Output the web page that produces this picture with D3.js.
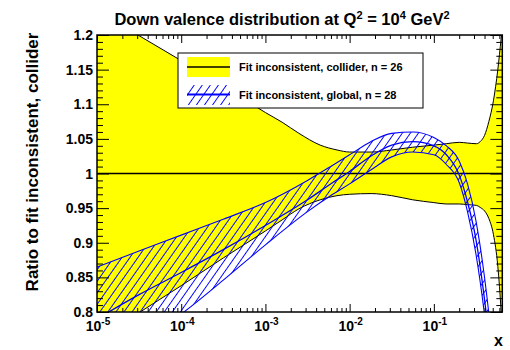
<!DOCTYPE html>
<html><head><meta charset="utf-8">
<script src="https://cdn.jsdelivr.net/npm/d3@7"></script>
<style>body{margin:0;background:#fff}svg{display:block}text{font-family:"Liberation Sans",Arial,sans-serif;font-weight:bold}</style>
</head><body><svg id="c" width="510" height="350"></svg>
<script>
// ---- data ----
const colliderX = [1e-5, 3.16e-5, 1e-4, 3.16e-4, 1e-3, 1.58e-3, 2.5e-3, 4.47e-3, 7.08e-3, 1e-2, 1.8e-2, 3.16e-2, 5.62e-2, 0.1, 0.14, 0.2, 0.25, 0.32, 0.355, 0.4, 0.45, 0.51, 0.575, 0.63, 0.65];
const colliderUpper = [1.236, 1.199, 1.163, 1.127, 1.088, 1.074, 1.058, 1.041, 1.034, 1.031, 1.031, 1.034, 1.038, 1.041, 1.043, 1.045, 1.044, 1.043, 1.046, 1.055, 1.075, 1.105, 1.15, 1.195, 1.21];
const colliderLower = [0.760, 0.799, 0.838, 0.878, 0.917, 0.933, 0.949, 0.962, 0.968, 0.970, 0.971, 0.968, 0.962, 0.958, 0.956, 0.956, 0.955, 0.954, 0.951, 0.946, 0.935, 0.912, 0.866, 0.800, 0.770];
const colliderCentral = [1, 1];
const colliderCentralX = [1e-5, 0.65];

const globalX = [1e-5, 3.16e-5, 1e-4, 3.16e-4, 1e-3, 3.16e-3, 6.31e-3, 1e-2, 1.78e-2, 3.16e-2, 5.62e-2, 0.1, 0.141, 0.2, 0.251, 0.316, 0.398, 0.501, 0.65];
const globalUpper = [0.865, 0.888, 0.911, 0.934, 0.958, 0.990, 1.012, 1.027, 1.046, 1.058, 1.060, 1.052, 1.040, 1.018, 0.985, 0.932, 0.852, 0.745, 0.600];
const globalCentral = [0.790, 0.825, 0.857, 0.890, 0.925, 0.962, 0.987, 1.003, 1.025, 1.041, 1.046, 1.040, 1.027, 0.998, 0.959, 0.905, 0.820, 0.712, 0.570];
const globalLower = [0.720, 0.755, 0.797, 0.846, 0.897, 0.945, 0.970, 0.985, 1.005, 1.024, 1.031, 1.027, 1.013, 0.987, 0.945, 0.884, 0.798, 0.685, 0.540];

const xMajor = [1e-5, 1e-4, 1e-3, 1e-2, 1e-1];
const xMajorExp = ["-5", "-4", "-3", "-2", "-1"];
const yMajor = [0.8, 0.85, 0.9, 0.95, 1.0, 1.05, 1.1, 1.15, 1.2];
const yMajorLabels = ["0.8", "0.85", "0.9", "0.95", "1", "1.05", "1.1", "1.15", "1.2"];
const legendLabels = ["Fit inconsistent, collider, n = 26", "Fit inconsistent, global, n = 28"];

// ---- layout ----
const L = 97, R = 502.3, T = 35, B = 312;
const svg = d3.select("#c");
const x = d3.scaleLog().domain([1e-5, 0.65]).range([L, R]);
const y = d3.scaleLinear().domain([0.8, 1.2]).range([B, T]);

const defs = svg.append("defs");
defs.append("clipPath").attr("id", "clip").append("rect").attr("x", L).attr("y", T).attr("width", R - L).attr("height", B - T);
const pat = defs.append("pattern").attr("id", "hatch").attr("patternUnits", "userSpaceOnUse")
  .attr("width", 6.6).attr("height", 20).attr("patternTransform", "rotate(35)");
pat.append("line").attr("x1", 3.3).attr("x2", 3.3).attr("y1", -1).attr("y2", 21).attr("stroke", "#0000ff").attr("stroke-width", 1);

const g = svg.append("g").attr("clip-path", "url(#clip)");
const curve = d3.curveMonotoneX;

// collider band
const cIdx = d3.range(colliderX.length);
g.append("path").attr("fill", "#ffff00")
  .attr("d", d3.area().curve(curve).x(i => x(colliderX[i])).y0(i => y(colliderLower[i])).y1(i => y(colliderUpper[i]))(cIdx));
[colliderUpper, colliderLower].forEach(arr => {
  g.append("path").attr("fill", "none").attr("stroke", "#000").attr("stroke-width", 1)
    .attr("d", d3.line().curve(curve).x(i => x(colliderX[i])).y(i => y(arr[i]))(cIdx));
});
g.append("path").attr("fill", "none").attr("stroke", "#000").attr("stroke-width", 1.3)
  .attr("d", d3.line().x((d, i) => x(colliderCentralX[i])).y(d => y(d))(colliderCentral));

// global band
const gIdx = d3.range(globalX.length);
g.append("path").attr("fill", "url(#hatch)")
  .attr("d", d3.area().curve(curve).x(i => x(globalX[i])).y0(i => y(globalLower[i])).y1(i => y(globalUpper[i]))(gIdx));
[globalUpper, globalLower, globalCentral].forEach((arr, k) => {
  g.append("path").attr("fill", "none").attr("stroke", "#0000ff").attr("stroke-width", k === 2 ? 1.3 : 1.1)
    .attr("d", d3.line().curve(curve).x(i => x(globalX[i])).y(i => y(arr[i]))(gIdx));
});

// ---- axes (ticks inside, ROOT style) ----
const xMinor = [];
for (let e = -5; e <= -1; e++) for (let k = 2; k <= 9; k++) { const v = k * Math.pow(10, e); if (v <= 0.65) xMinor.push(v); }
const yMinor = d3.range(80, 121).map(v => v / 100).filter(v => Math.round(v * 100) % 5 !== 0);

function ax(axisFn, scale, vals, size, tr) {
  svg.append("g").attr("transform", tr)
    .call(axisFn(scale).tickValues(vals).tickSize(size).tickFormat(""))
    .call(s => s.select(".domain").remove())
    .call(s => s.selectAll("line").attr("stroke", "#000").attr("stroke-width", 1));
}
ax(d3.axisBottom, x, xMajor, -8, `translate(0,${B})`);
ax(d3.axisBottom, x, xMinor, -4, `translate(0,${B})`);
ax(d3.axisTop, x, xMajor, -8, `translate(0,${T})`);
ax(d3.axisTop, x, xMinor, -4, `translate(0,${T})`);
ax(d3.axisLeft, y, yMajor, -12, `translate(${L},0)`);
ax(d3.axisLeft, y, yMinor, -6, `translate(${L},0)`);
ax(d3.axisRight, y, yMajor, -12, `translate(${R},0)`);
ax(d3.axisRight, y, yMinor, -6, `translate(${R},0)`);

svg.append("rect").attr("x", L).attr("y", T).attr("width", R - L).attr("height", B - T)
  .attr("fill", "none").attr("stroke", "#000").attr("stroke-width", 1.5);

// y labels
svg.append("g").selectAll("text").data(yMajor).join("text")
  .attr("x", L - 4).attr("y", d => y(d) + 5).attr("text-anchor", "end").attr("font-size", 14)
  .text((d, i) => yMajorLabels[i]);

// x labels
const xl = svg.append("g").selectAll("text").data(xMajor).join("text")
  .attr("x", d => x(d) + 1).attr("y", 331).attr("text-anchor", "middle").attr("font-size", 14);
xl.append("tspan").text("10");
xl.append("tspan").attr("dy", -6).attr("font-size", 10).text((d, i) => xMajorExp[i]);

// axis titles
svg.append("text").attr("x", 503).attr("y", 346).attr("text-anchor", "end").attr("font-size", 16).text("x");
svg.append("text").attr("transform", "translate(38,162) rotate(-90)").attr("text-anchor", "middle")
  .attr("font-size", 17).text("Ratio to fit inconsistent, collider");

// title
const t = svg.append("text").attr("x", 282).attr("y", 25).attr("text-anchor", "middle").attr("font-size", 16.5);
t.append("tspan").text("Down valence distribution at Q");
t.append("tspan").attr("dy", -6).attr("font-size", 11).text("2");
t.append("tspan").attr("dy", 6).text(" = 10");
t.append("tspan").attr("dy", -6).attr("font-size", 11).text("4");
t.append("tspan").attr("dy", 6).text(" GeV");
t.append("tspan").attr("dy", -6).attr("font-size", 11).text("2");

// legend
const lg = svg.append("g");
lg.append("rect").attr("x", 178).attr("y", 53).attr("width", 245).attr("height", 55)
  .attr("fill", "#fff").attr("stroke", "#000").attr("stroke-width", 1);
lg.append("rect").attr("x", 187).attr("y", 57).attr("width", 43).attr("height", 20).attr("fill", "#ffff00");
lg.append("line").attr("x1", 187).attr("x2", 230).attr("y1", 67).attr("y2", 67).attr("stroke", "#000").attr("stroke-width", 1.3);
lg.append("rect").attr("x", 187).attr("y", 85).attr("width", 43).attr("height", 20).attr("fill", "url(#hatch)");
lg.append("line").attr("x1", 187).attr("x2", 230).attr("y1", 94.5).attr("y2", 94.5).attr("stroke", "#0000ff").attr("stroke-width", 2.2);
lg.selectAll("text.l").data(legendLabels).join("text").attr("class", "l")
  .attr("x", 239).attr("y", (d, i) => i === 0 ? 71 : 98.5).attr("font-size", 11).text(d => d);
</script></body></html>
